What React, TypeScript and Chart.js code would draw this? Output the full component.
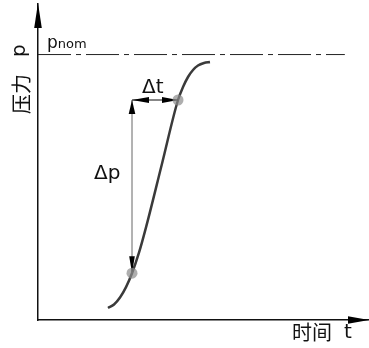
import React, { useEffect, useRef } from "react";
import { Chart, registerables } from "chart.js";

Chart.register(...registerables);

// Pressure build-up curve (time vs pressure, arbitrary units 0..100)
const timeValues = [21.15, 22.96, 24.77, 26.59, 28.4, 30.51, 32.63, 37.46, 42.3, 43.81, 45.32, 46.83, 48.34, 50.15, 51.96];
const pressureValues = [3.8, 4.91, 7.12, 10.41, 14.81, 21.3, 29.3, 49.46, 69.62, 73.73, 76.9, 79.11, 80.54, 81.33, 81.65];

// nominal pressure line
const pNom = 84;
const nomLineTimes = [0, 92.7];

// marked points used for Δp / Δt
const markTimes = [28.4, 42.3];
const markPressures = [14.81, 69.62];

// labels
const xAxisLabelCJK = "时间";
const xAxisLabelSym = "t";
const yAxisLabelCJK = "压力";
const yAxisLabelSym = "p";
const nomLabelMain = "p";
const nomLabelSub = "nom";
const deltaPLabel = "Δp";
const deltaTLabel = "Δt";

const LATIN = '"DejaVu Sans", "Noto Sans CJK SC", sans-serif';
const CJK = '"Noto Sans CJK SC", "DejaVu Sans", sans-serif';

function arrowHead(
  ctx: CanvasRenderingContext2D,
  tipX: number,
  tipY: number,
  dx: number,
  dy: number,
  len: number,
  half: number,
  color: string
) {
  const bx = tipX - dx * len;
  const by = tipY - dy * len;
  const nx = -dy;
  const ny = dx;
  ctx.beginPath();
  ctx.moveTo(tipX, tipY);
  ctx.lineTo(bx + nx * half, by + ny * half);
  ctx.lineTo(bx - nx * half, by - ny * half);
  ctx.closePath();
  ctx.fillStyle = color;
  ctx.fill();
}

const annotationPlugin = {
  id: "annotations",
  afterDraw(chart: any) {
    const ctx: CanvasRenderingContext2D = chart.ctx;
    const xs = chart.scales.x;
    const ys = chart.scales.y;
    const area = chart.chartArea;
    const left = area.left;
    const right = area.right;
    const top = area.top;
    const bottom = area.bottom;
    ctx.save();

    // axis arrows
    arrowHead(ctx, left, top - 1, 0, -1, 25, 3.8, "#000");
    arrowHead(ctx, right, bottom, 1, 0, 21, 3.8, "#000");

    const x1 = xs.getPixelForValue(markTimes[0]);
    const x2 = xs.getPixelForValue(markTimes[1]);
    const y1 = ys.getPixelForValue(markPressures[0]);
    const y2 = ys.getPixelForValue(markPressures[1]);

    // Δp vertical arrow
    ctx.strokeStyle = "#666";
    ctx.lineWidth = 1;
    ctx.beginPath();
    ctx.moveTo(x1, y2);
    ctx.lineTo(x1, y1);
    ctx.stroke();
    arrowHead(ctx, x1, y2, 0, -1, 14, 3.3, "#000");
    arrowHead(ctx, x1, y1, 0, 1, 17, 2.8, "#000");

    // Δt horizontal arrow
    ctx.strokeStyle = "#111";
    ctx.lineWidth = 1.2;
    ctx.beginPath();
    ctx.moveTo(x1, y2);
    ctx.lineTo(x2, y2);
    ctx.stroke();
    arrowHead(ctx, x1, y2, -1, 0, 17, 3, "#000");
    arrowHead(ctx, x2, y2, 1, 0, 16, 3, "#000");

    // marked points on top
    ctx.fillStyle = "rgba(140,140,140,0.7)";
    for (let i = 0; i < markTimes.length; i++) {
      ctx.beginPath();
      ctx.arc(xs.getPixelForValue(markTimes[i]), ys.getPixelForValue(markPressures[i]), 5.5, 0, Math.PI * 2);
      ctx.fill();
    }

    // texts
    ctx.fillStyle = "#111";
    ctx.textBaseline = "alphabetic";
    ctx.textAlign = "left";

    ctx.font = `20px ${LATIN}`;
    ctx.fillText(deltaTLabel, x1 + 10, y2 - 7);
    ctx.fillText(deltaPLabel, x1 - 38, (y1 + y2) / 2 - 8);

    const yNom = ys.getPixelForValue(pNom);
    ctx.font = `17px ${LATIN}`;
    ctx.fillText(nomLabelMain, left + 9, yNom - 7);
    const w = ctx.measureText(nomLabelMain).width;
    ctx.font = `13px ${LATIN}`;
    ctx.fillText(nomLabelSub, left + 9 + w, yNom - 7);

    // x axis title
    ctx.textBaseline = "middle";
    ctx.textAlign = "left";
    ctx.font = `20px ${CJK}`;
    ctx.fillText(xAxisLabelCJK, right - 77, bottom + 12);
    ctx.font = `20px ${LATIN}`;
    ctx.fillText(xAxisLabelSym, right - 25, bottom + 13);

    // y axis title (rotated)
    ctx.save();
    ctx.translate(left - 17, top + 110);
    ctx.rotate(-Math.PI / 2);
    ctx.textAlign = "left";
    ctx.textBaseline = "middle";
    ctx.font = `20px ${CJK}`;
    ctx.fillText(yAxisLabelCJK, 0, 0);
    ctx.font = `20px ${LATIN}`;
    ctx.fillText(yAxisLabelSym, 57, -1);
    ctx.restore();

    ctx.restore();
  },
};

export default function App() {
  const ref = useRef<HTMLCanvasElement>(null);
  useEffect(() => {
    document.body.style.margin = "0";
    const chart = new Chart(ref.current as HTMLCanvasElement, {
      type: "line",
      data: {
        datasets: [
          {
            label: "pressure",
            data: timeValues.map((t, i) => ({ x: t, y: pressureValues[i] })),
            borderColor: "#3a3a3a",
            borderWidth: 2.5,
            pointRadius: 0,
            cubicInterpolationMode: "monotone",
            fill: false,
            order: 1,
          },
          {
            label: "pnom",
            data: nomLineTimes.map((t) => ({ x: t, y: pNom })),
            borderColor: "#222",
            borderWidth: 1,
            borderDash: [33, 5, 5, 5],
            pointRadius: 0,
            fill: false,
            order: 2,
          },
        ],
      },
      options: {
        animation: false,
        responsive: false,
        devicePixelRatio: 1,
        layout: { padding: { left: 38, right: 0, top: 4, bottom: 28 } },
        plugins: { legend: { display: false }, tooltip: { enabled: false } },
        events: [],
        scales: {
          x: {
            type: "linear",
            min: 0,
            max: 100,
            grid: { display: false, drawTicks: false },
            ticks: { display: false },
            border: { display: true, color: "#111", width: 1.5 },
          },
          y: {
            type: "linear",
            min: 0,
            max: 100,
            grid: { display: false, drawTicks: false },
            ticks: { display: false },
            border: { display: true, color: "#111", width: 1.5 },
          },
        },
      },
      plugins: [annotationPlugin],
    });
    return () => chart.destroy();
  }, []);
  return (
    <div style={{ position: "absolute", left: 0, top: 0, width: 369, height: 348 }}>
      <canvas ref={ref} width={369} height={348} style={{ display: "block", width: 369, height: 348 }} />
    </div>
  );
}
